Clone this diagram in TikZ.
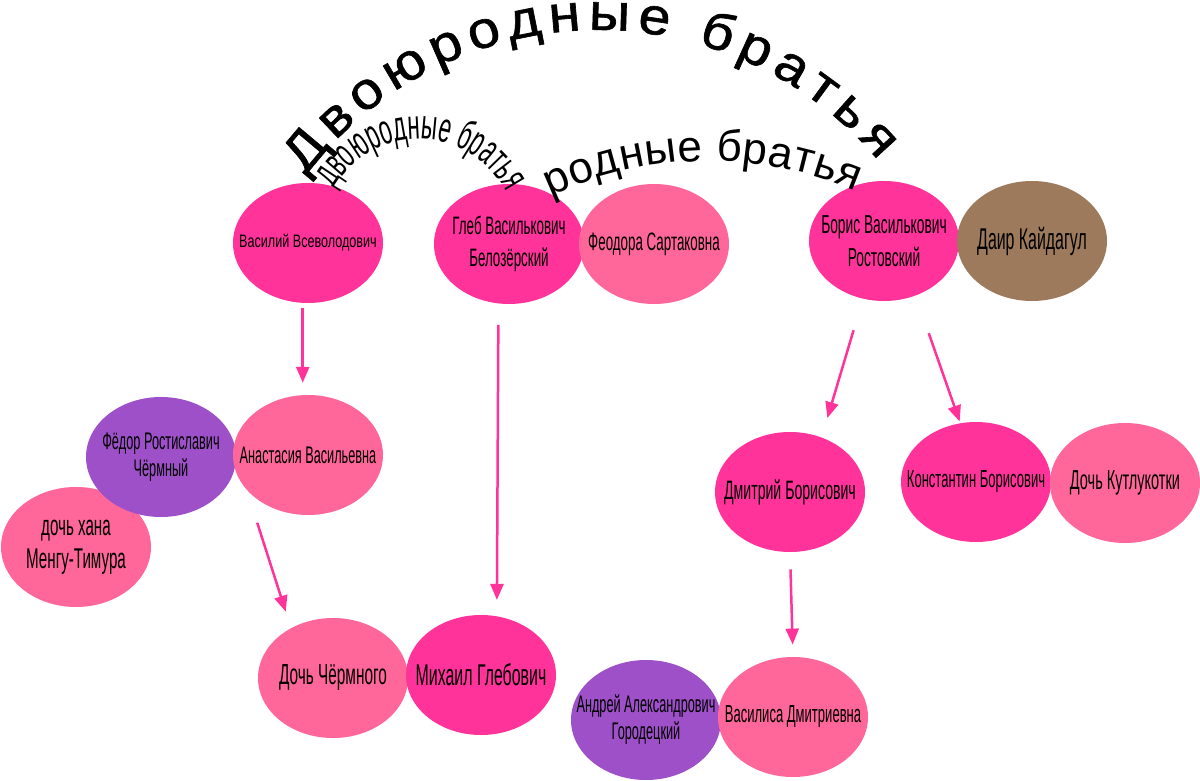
\documentclass[tikz,border=0pt]{standalone}
\usepackage{fontspec}
\setmainfont{Liberation Sans}
\newfontfamily\nar[FakeStretch=0.53]{Liberation Sans}
\newfontfamily\narw[FakeStretch=0.7]{Liberation Sans}
\newfontfamily\wide[FakeStretch=1.1,FakeBold=1.2]{Liberation Sans}
\usetikzlibrary{arrows.meta, shapes.geometric, decorations.text}
\definecolor{hotpink}{HTML}{FF3399}
\definecolor{softpink}{HTML}{FF6699}
\definecolor{lilac}{HTML}{9E50C8}
\definecolor{mud}{HTML}{9C7A5B}
\newcommand\fs[2]{\fontsize{#1}{#2}\selectfont}
\tikzset{pers/.style={ellipse,fill=#1,minimum width=75pt,minimum height=60pt,inner sep=0pt},who/.style 2 args={label={[align=center,inner sep=0pt,text=black,font=#1]center:#2}},arr/.style={draw=hotpink,line width=1.25pt,-{Triangle[length=8pt,width=6.5pt]}},arctext/.style={decorate,decoration={text along path,text align={fit to path},text={#1}}}}

\begin{document}
\begin{tikzpicture}[x=0.5pt,y=0.5pt]
\useasboundingbox (0,0) rectangle (1200,-781);
% left branch
\node[pers=softpink, who={\nar\fs{14.3}{16.5}}{дочь хана\\Менгу-Тимура}] (hana) at (76,-547) {};
\node[pers=lilac, who={\nar\fs{12}{13.5}}{Фёдор Ростиславич\\Чёрмный}] (fed) at (161,-457) {};
\node[pers=softpink, who={\nar\fs{12}{13.5}}{Анастасия Васильевна}] (anas) at (308,-455) {};
\node[pers=hotpink, who={\narw\fs{9}{11}}{Василий Всеволодович}] (vas) at (308,-243) {};
% middle
\node[pers=hotpink, who={\nar\fs{12.6}{16}}{Глеб Василькович\\Белозёрский}] (gleb) at (509,-244) {};
\node[pers=softpink, who={\nar\fs{12.6}{16}}{Феодора Сартаковна}] (feod) at (654,-244) {};
% right branch
\node[pers=hotpink, who={\nar\fs{13}{16.5}}{Борис Василькович\\Ростовский}] (boris) at (884,-241) {};
\node[pers=mud, who={\nar\fs{15}{16}}{Даир Кайдагул}] (dair) at (1032,-241) {};
\node[pers=hotpink, who={\nar\fs{13.3}{16}}{Дмитрий Борисович}] (dmit) at (790,-492) {};
\node[pers=hotpink, who={\nar\fs{12.3}{16}}{Константин Борисович}] (kons) at (976,-482) {};
\node[pers=softpink, who={\nar\fs{13.7}{16}}{Дочь Кутлукотки}] (kutl) at (1125,-483) {};
% bottom
\node[pers=softpink, who={\nar\fs{14.5}{16}}{Дочь Чёрмного}] (dch) at (333,-678) {};
\node[pers=hotpink, who={\nar\fs{15}{16}}{Михаил Глебович}] (mikh) at (481,-675) {};
\node[pers=lilac, who={\nar\fs{12}{13.5}}{Андрей Александрович\\Городецкий}] (andr) at (646,-720) {};
\node[pers=softpink, who={\nar\fs{12.3}{16}}{Василиса Дмитриевна}] (vasi) at (793,-717) {};
% arrows
\draw[arr, shorten <=2.5pt, shorten >=6pt] (vas.265) -- (anas.95);
\draw[arr, shorten <=17pt, shorten >=8.5pt] (anas.210) -- (dch.130);
\draw[arr, shorten <=10.5pt, shorten >=8pt] (gleb.260) -- (mikh.75);
\draw[arr, shorten <=16.3pt, shorten >=10pt] (boris.250) -- (dmit.60);
\draw[arr, shorten <=19.8pt, shorten >=0.75pt] (boris.300) -- (kons.105);
\draw[arr, shorten <=8.5pt, shorten >=6pt] (dmit.south) -- (vasi.north);
% arched captions
\path[arctext={|\wide\fs{26}{26}|Двоюродные братья}] (598,-396) ++(143:366) arc[start angle=143, end angle=40, radius=366];
\path[arctext={|\fs{22}{22}|родные братья}] (709,-537) ++(115:376) arc[start angle=115, end angle=67, radius=376];
\path[arctext={|\nar\fs{21}{21}|двоюродные братья}] (419,-237) ++(150:98) arc[start angle=150, end angle=30, radius=98];
\end{tikzpicture}
\end{document}
